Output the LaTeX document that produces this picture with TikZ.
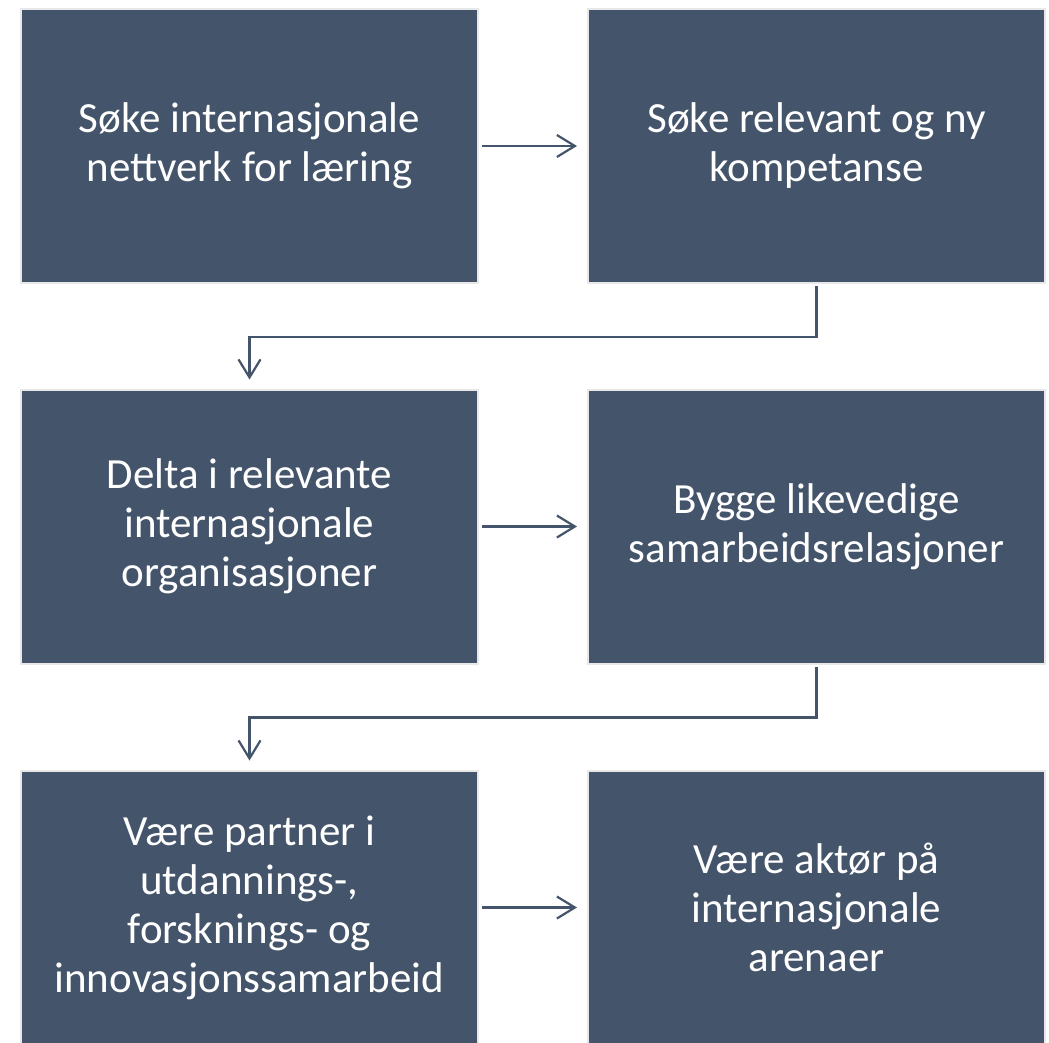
\documentclass[tikz,border=0pt]{standalone}
\usepackage{fontspec}
\setmainfont{Carlito}
\usetikzlibrary{calc, positioning}
\usetikzlibrary{arrows.meta}
\definecolor{slate}{HTML}{44546A}
\tikzset{
  font=\fontsize{43}{49}\selectfont,
  % Set arrowhead
  >={Straight Barb[length=18pt, width=22pt]},
  % Step box
  sbox/.style={draw=gray!18, line width=2pt, fill=slate, text=white,
    minimum width=457pt, minimum height=274pt, inner sep=0pt,
    align=center},
  % Arrows
  q->/.style={->, draw=slate, line width=2.2pt, shorten <=3pt,
    shorten >=10pt},
  q-|/.style={->, draw=slate, line width=2.2pt, shorten <=2pt,
    shorten >=9pt},
}
\begin{document}
\begin{tikzpicture}[x=1pt, y=-1pt]
  \useasboundingbox (0,0) rectangle (1049,1042);
  \clip (0,0) rectangle (1049,1042);

  \node[sbox] (tl) at (249.5,146) {Søke internasjonale\\nettverk for læring};
  \node[sbox] (tr) at (816.5,146) {Søke relevant og ny\\kompetanse};
  \node[sbox] (ml) at (249.5,526.5) {Delta i relevante\\internasjonale\\organisasjoner};
  \node[sbox] (mr) at (816.5,526.5) {Bygge likevedige\\samarbeidsrelasjoner};
  \node[sbox] (bl) at (249.5,907.5) {Være partner i\\utdannings-,\\forsknings- og\\innovasjonssamarbeid};
  \node[sbox] (br) at (816.5,907.5) {Være aktør på\\internasjonale\\arenaer};

  \draw[q->] (tl) -- (tr);
  \draw[q->] (ml) -- (mr);
  \draw[q->] (bl) -- (br);
  \draw[q-|] (tr.south) -- ++(0,53) -| (ml.north);
  \draw[q-|] (mr.south) -- ++(0,53) -| (bl.north);
\end{tikzpicture}
\end{document}
